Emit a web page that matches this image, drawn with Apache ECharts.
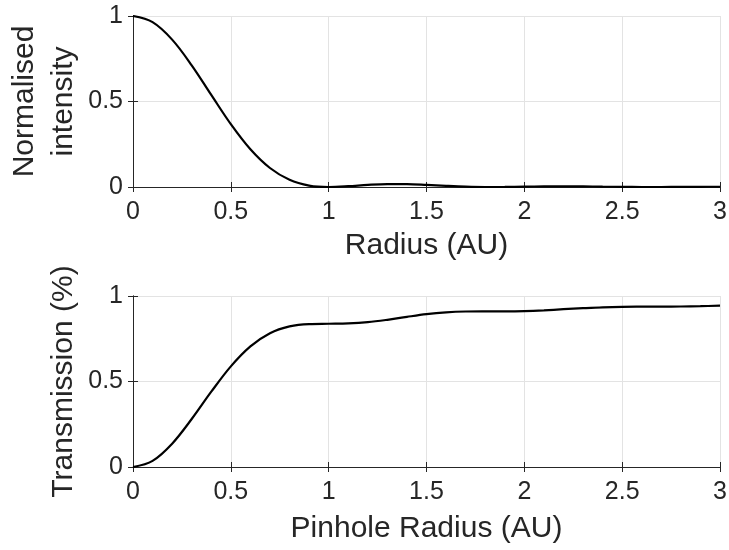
<!DOCTYPE html>
<html>
<head>
<meta charset="utf-8">
<script src="https://cdn.jsdelivr.net/npm/echarts@6/dist/echarts.min.js"></script>
<style>html,body{margin:0;padding:0;background:#fff}#c{width:729px;height:550px}</style>
</head>
<body>
<div id="c"></div>
<script>
const radius = [0,0.1,0.2,0.3,0.4,0.5,0.6,0.7,0.8,0.9,1.0,1.1,1.2,1.3,1.4,1.5,1.6,1.7,1.8,1.9,2.0,2.1,2.2,2.3,2.4,2.5,2.6,2.7,2.8,2.9,3.0];
const intensity = [1,0.9639,0.8619,0.7118,0.5384,0.3675,0.2207,0.1111,0.0421,0.0085,0,0.0046,0.0124,0.0170,0.0166,0.0122,0.0066,0.0021,0.0001,0.0004,0.0020,0.0036,0.0041,0.0036,0.0022,0.0009,0.0001,0.0001,0.0006,0.0012,0.0016];
const transmission = [0,0.0360,0.1365,0.2805,0.4403,0.5884,0.7052,0.7821,0.8220,0.8360,0.8378,0.8397,0.8467,0.8607,0.8780,0.8938,0.9043,0.9095,0.9105,0.9106,0.9121,0.9164,0.9227,0.9288,0.9340,0.9369,0.9377,0.9381,0.9387,0.9404,0.9434];
const xTicks = [0,0.5,1,1.5,2,2.5,3];
const yTicks = [0,0.5,1];

const FONT = 'Liberation Sans';
const AX = '#262626';
const GRIDC = '#e3e3e3';

function mainX(gi, name, gap) {
  return {
    type: 'value', gridIndex: gi, min: 0, max: 3, interval: 0.5, position: 'bottom',
    name: name, nameLocation: 'middle', nameGap: gap, nameMoveOverlap: false,
    nameTextStyle: {fontFamily: FONT, fontSize: 30, color: AX},
    axisLine: {show: true, lineStyle: {color: AX, width: 1}},
    axisTick: {show: true, inside: true, length: 5, lineStyle: {color: AX}},
    axisLabel: {fontFamily: FONT, fontSize: 25, color: AX, margin: 13,
      formatter: v => xTicks.includes(v) ? String(v) : ''},
    splitLine: {show: true, lineStyle: {color: GRIDC, width: 1}}
  };
}
function topX(gi) {
  return {
    type: 'value', gridIndex: gi, min: 0, max: 3, interval: 0.5, position: 'top',
    axisLine: {show: true, lineStyle: {color: AX, width: 1}},
    axisTick: {show: true, inside: true, length: 5, lineStyle: {color: AX}},
    axisLabel: {show: false}, splitLine: {show: false}
  };
}
function mainY(gi, name) {
  return {
    type: 'value', gridIndex: gi, min: 0, max: 1, interval: 0.5, position: 'left',
    name: name, nameLocation: 'middle', nameGap: 50, nameRotate: 90, nameMoveOverlap: false,
    nameTextStyle: {fontFamily: FONT, fontSize: 30, color: AX, lineHeight: 39, align: 'center'},
    axisLine: {show: true, lineStyle: {color: AX, width: 1}},
    axisTick: {show: true, inside: true, length: 5, lineStyle: {color: AX}},
    axisLabel: {fontFamily: FONT, fontSize: 25, color: AX, margin: 10,
      formatter: v => yTicks.includes(v) ? String(v) : ''},
    splitLine: {show: true, lineStyle: {color: GRIDC, width: 1}}
  };
}
function rightY(gi) {
  return {
    type: 'value', gridIndex: gi, min: 0, max: 1, interval: 0.5, position: 'right',
    axisLine: {show: true, lineStyle: {color: AX, width: 1}},
    axisTick: {show: true, inside: true, length: 5, lineStyle: {color: AX}},
    axisLabel: {show: false}, splitLine: {show: false}
  };
}

const chart = echarts.init(document.getElementById('c'), null, {renderer: 'canvas'});
chart.setOption({
  animation: false,
  backgroundColor: '#ffffff',
  grid: [
    {left: 133, right: 9, top: 16, height: 171, containLabel: false, outerBoundsMode: 'none'},
    {left: 133, right: 9, top: 296, height: 171, containLabel: false, outerBoundsMode: 'none'}
  ],
  xAxis: [mainX(0, 'Radius (AU)', 44), mainX(1, 'Pinhole Radius (AU)', 47), topX(0), topX(1)],
  yAxis: [mainY(0, 'Normalised\nintensity'), mainY(1, 'Transmission (%)'), rightY(0), rightY(1)],
  series: [
    {type: 'line', xAxisIndex: 0, yAxisIndex: 0, data: radius.map((r, i) => [r, intensity[i]]),
     showSymbol: false, smooth: 0.35, clip: true, lineStyle: {color: '#000', width: 2.2}, z: 5},
    {type: 'line', xAxisIndex: 1, yAxisIndex: 1, data: radius.map((r, i) => [r, transmission[i]]),
     showSymbol: false, smooth: 0.35, clip: true, lineStyle: {color: '#000', width: 2.2}, z: 5}
  ]
});
</script>
</body>
</html>
